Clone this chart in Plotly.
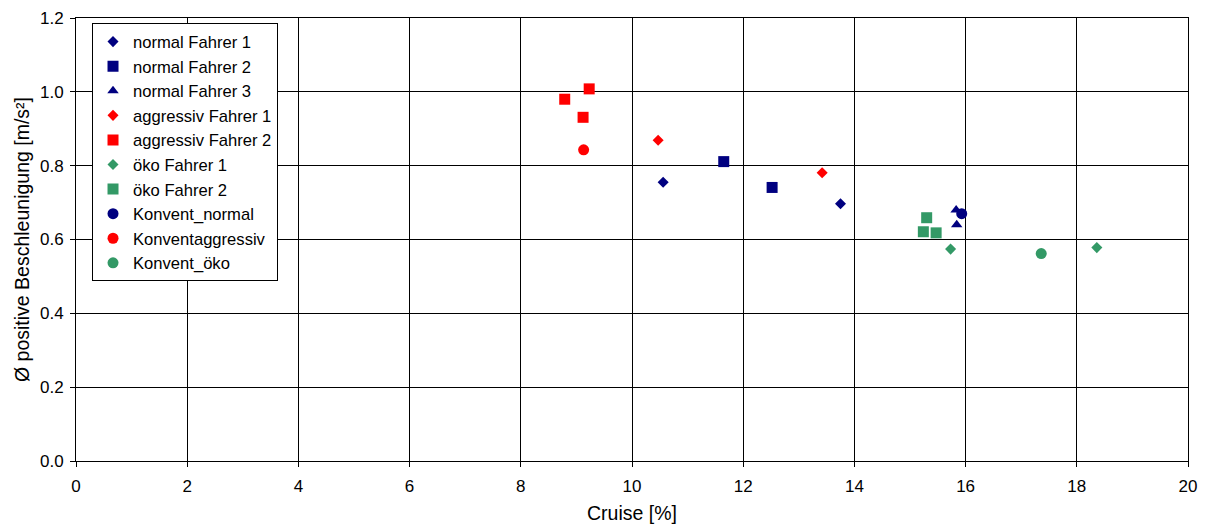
import plotly.graph_objects as go

names = ["normal Fahrer 1", "normal Fahrer 2", "normal Fahrer 3",
         "aggressiv Fahrer 1", "aggressiv Fahrer 2",
         "öko Fahrer 1", "öko Fahrer 2",
         "Konvent_normal", "Konventaggressiv", "Konvent_öko"]

x_normal_f1 = [10.56, 13.75]
y_normal_f1 = [0.755, 0.697]
x_normal_f2 = [11.65, 12.52]
y_normal_f2 = [0.811, 0.741]
x_normal_f3 = [15.83, 15.84]
y_normal_f3 = [0.680, 0.640]
x_aggr_f1 = [10.47, 13.42]
y_aggr_f1 = [0.869, 0.781]
x_aggr_f2 = [9.23, 8.79, 9.12]
y_aggr_f2 = [1.008, 0.980, 0.931]
x_oeko_f1 = [15.73, 18.36]
y_oeko_f1 = [0.574, 0.578]
x_oeko_f2 = [15.30, 15.24, 15.47]
y_oeko_f2 = [0.659, 0.621, 0.618]
x_konv_normal = [15.93]
y_konv_normal = [0.670]
x_konv_aggr = [9.13]
y_konv_aggr = [0.843]
x_konv_oeko = [17.36]
y_konv_oeko = [0.562]

NAVY = "#000080"
RED = "#FF0000"
GREEN = "#339966"

series = [
    (x_normal_f1, y_normal_f1, NAVY, "diamond", 8.5),
    (x_normal_f2, y_normal_f2, NAVY, "square", 11),
    (x_normal_f3, y_normal_f3, NAVY, "triangle-up", 10),
    (x_aggr_f1, y_aggr_f1, RED, "diamond", 8.5),
    (x_aggr_f2, y_aggr_f2, RED, "square", 11),
    (x_oeko_f1, y_oeko_f1, GREEN, "diamond", 8.5),
    (x_oeko_f2, y_oeko_f2, GREEN, "square", 11),
    (x_konv_normal, y_konv_normal, NAVY, "circle", 11),
    (x_konv_aggr, y_konv_aggr, RED, "circle", 11),
    (x_konv_oeko, y_konv_oeko, GREEN, "circle", 11),
]

fig = go.Figure()
for name, (xs, ys, col, sym, sz) in zip(names, series):
    fig.add_trace(go.Scatter(
        x=xs, y=ys, mode="markers", name=name,
        marker=dict(color=col, symbol=sym, size=sz, line=dict(width=0)),
    ))

FONT = "Liberation Sans, Arial, sans-serif"

fig.update_layout(
    width=1203, height=524,
    margin=dict(l=68, r=23, t=10, b=71, autoexpand=False),
    paper_bgcolor="white", plot_bgcolor="white",
    font=dict(family=FONT, size=17, color="black"),
    showlegend=True,
    legend=dict(
        x=0.0144, y=0.988, xanchor="left", yanchor="top",
        bgcolor="white", bordercolor="black", borderwidth=1,
        font=dict(family=FONT, size=16.6, color="black"),
        itemwidth=30, tracegroupgap=0,
    ),
    xaxis=dict(
        range=[0, 20], dtick=2, tick0=0,
        showgrid=True, gridcolor="black", gridwidth=1,
        showline=True, linecolor="black", linewidth=1, mirror=True,
        ticks="outside", ticklen=5, tickcolor="black",
        ticklabelstandoff=5,
        tickfont=dict(family=FONT, size=17),
        title=dict(text="Cruise [%]", font=dict(family=FONT, size=19.5), standoff=10),
        zeroline=False, automargin=False,
    ),
    yaxis=dict(
        range=[0, 1.2], dtick=0.2, tick0=0, tickformat=".1f",
        showgrid=True, gridcolor="black", gridwidth=1,
        showline=True, linecolor="black", linewidth=1, mirror=True,
        ticks="outside", ticklen=5, tickcolor="black",
        ticklabelstandoff=3, ticklabeloverflow="allow",
        tickfont=dict(family=FONT, size=17),
        title=dict(text="Ø positive Beschleunigung [m/s²]", font=dict(family=FONT, size=19.5), standoff=5),
        zeroline=False, automargin=False,
    ),
)

fig.write_html("out.html")
